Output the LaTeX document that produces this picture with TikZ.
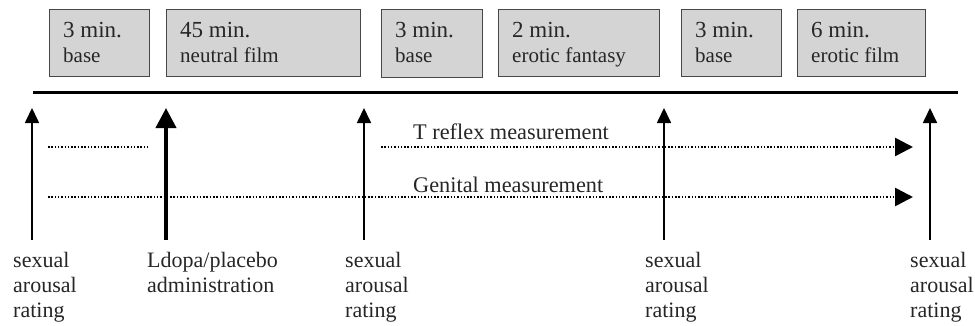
\documentclass[tikz,border=0pt]{standalone}
\usepackage{fontspec}
\setmainfont{Liberation Serif}
\usetikzlibrary{arrows.meta}
\definecolor{boxfill}{HTML}{D4D4D4}
\definecolor{boxline}{HTML}{474747}
\definecolor{txt}{HTML}{262626}
\newcommand{\firstln}{\fontsize{23}{25}\selectfont}
\begin{document}
\begin{tikzpicture}[x=1pt,y=-1pt,
  box/.style={draw=boxline,line width=1.2pt,fill=boxfill,rectangle,anchor=north west,
    minimum height=67pt,inner sep=0pt},
  btxt/.style={anchor=north west,inner sep=0pt,align=left,text=txt,
    font=\fontsize{21}{25}\selectfont},
  lbl/.style={anchor=north west,inner sep=0pt,align=left,
    font=\fontsize{22}{25}\selectfont,text=txt},
  mlbl/.style={anchor=base west,inner sep=0pt,font=\fontsize{22.3}{25}\selectfont,text=txt},
  thinarrow/.style={line width=1.7pt,-{Triangle[length=15pt,width=14pt]}},
  thickarrow/.style={line width=4pt,-{Triangle[length=20pt,width=20pt]}},
  dotline/.style={line width=2.6pt,dash pattern=on 1.5pt off 1.8pt},
  dotarrow/.style={dotline,-{Triangle[length=18pt,width=18pt]}}
]
\useasboundingbox (0,0) rectangle (975,325);
% boxes
\node[box,minimum width=100pt] (b1) at (49,9) {};
\node[box,minimum width=194pt] (b2) at (166,9) {};
\node[box,minimum width=101pt,minimum height=68pt] (b3) at (381,9) {};
\node[box,minimum width=161pt] (b4) at (498,9) {};
\node[box,minimum width=100pt] (b5) at (681,9) {};
\node[box,minimum width=128pt] (b6) at (797,9) {};
\foreach \b/\first/\second in {b1/3 min./base,b2/45 min./neutral film,b3/3 min./base,
    b4/2 min./erotic fantasy,b5/3 min./base,b6/6 min./erotic film}{
  \node[btxt] (\b t) at ([xshift=14pt,yshift=-12pt]\b.north west)
    {{\firstln\rule{0pt}{16pt}\first}\\\second};
}
% timeline
\coordinate (tl1) at (33,92.5);
\coordinate (tl2) at (958,92.5);
\draw[line width=3.6pt] (tl1) -- (tl2);
% arrows
\foreach \n/\x in {a1/32,a2/166,a3/364,a4/664,a5/930}{
  \coordinate (\n b) at (\x,240);
  \coordinate (\n t) at (\x,108);
}
\draw[thinarrow] (a1b) -- (a1t);
\draw[thickarrow] (a2b) -- (a2t);
\draw[thinarrow] (a3b) -- (a3t);
\draw[thinarrow] (a4b) -- (a4t);
\draw[thinarrow] (a5b) -- (a5t);
% dotted lines
\coordinate (d1s) at (48,147);
\coordinate (d1e) at (148,147);
\coordinate (d2s) at (381,147);
\coordinate (d2e) at (913,147);
\coordinate (d3s) at (48,197);
\coordinate (d3e) at (913,197);
\draw[dotline] (d1s) -- (d1e);
\draw[dotarrow] (d2s) -- (d2e);
\draw[dotarrow] (d3s) -- (d3e);
\node[mlbl] (tref) at (413,139) {T reflex measurement};
\node[mlbl] (gen) at (413,192) {Genital measurement};
% bottom labels
\node[lbl] (l1) at (13,252) {sexual\\arousal\\rating};
\node[lbl] (l2) at (147,252) {Ldopa/placebo\\administration};
\node[lbl] (l3) at (345,252) {sexual\\arousal\\rating};
\node[lbl] (l4) at (645,252) {sexual\\arousal\\rating};
\node[lbl] (l5) at (910,252) {sexual\\arousal\\rating};
\end{tikzpicture}
\end{document}
